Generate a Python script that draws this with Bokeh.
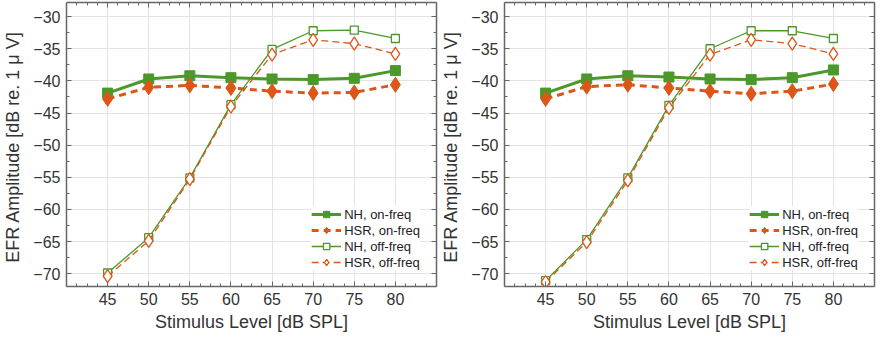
from bokeh.plotting import figure
from bokeh.layouts import row
from bokeh.models import FixedTicker, LinearAxis, Range1d
from bokeh.embed import file_html
from bokeh.resources import INLINE

# ---- data ----
levels = [45, 50, 55, 60, 65, 70, 75, 80]
x_tick_labels = [45, 50, 55, 60, 65, 70, 75, 80]
y_tick_labels = [-70, -65, -60, -55, -50, -45, -40, -35, -30]

# left panel
left_nh_on = [-41.9, -39.7, -39.2, -39.5, -39.7, -39.8, -39.6, -38.4]
left_hsr_on = [-42.8, -41.0, -40.7, -41.1, -41.6, -41.9, -41.8, -40.6]
left_nh_off = [-69.9, -64.4, -55.1, -43.7, -35.1, -32.2, -32.1, -33.4]
left_hsr_off = [-70.4, -64.9, -55.3, -44.0, -35.9, -33.6, -34.2, -35.8]

# right panel
right_nh_on = [-41.9, -39.7, -39.2, -39.4, -39.7, -39.8, -39.5, -38.3]
right_hsr_on = [-42.8, -40.9, -40.6, -41.1, -41.6, -42.0, -41.6, -40.5]
right_nh_off = [-71.1, -64.7, -55.1, -43.8, -35.0, -32.2, -32.2, -33.4]
right_hsr_off = [-71.3, -65.1, -55.5, -44.2, -35.9, -33.6, -34.2, -35.8]

series_names = ["NH, on-freq", "HSR, on-freq", "NH, off-freq", "HSR, off-freq"]

GREEN = "#4b982b"
ORANGE = "#dc5618"
AXIS = "#666666"
FONT = "Liberation Sans"

x_minor = [40 + 1.25 * k for k in range(37)]
y_minor = [-72.5 + 2.5 * k for k in range(19)]


def style_axis(ax, labels=True):
    ax.axis_line_color = AXIS
    ax.axis_line_width = 1.5
    ax.major_tick_line_color = AXIS
    ax.minor_tick_line_color = AXIS
    ax.major_tick_in = 5
    ax.major_tick_out = 0
    ax.minor_tick_in = 3
    ax.minor_tick_out = 0
    ax.major_label_text_font = FONT
    ax.major_label_text_font_size = "16px"
    ax.major_label_text_color = "#333333" if labels else None
    ax.axis_label_text_font = FONT
    ax.axis_label_text_font_size = "18px"
    ax.axis_label_text_font_style = "normal"
    ax.axis_label_text_color = "#333333"
    if not labels:
        ax.major_label_text_font_size = "0px"
        ax.major_label_standoff = 0


def make_panel(nh_on, hsr_on, nh_off, hsr_off):
    p = figure(width=438, height=334, output_backend="svg", toolbar_location=None,
               x_range=Range1d(40, 85), y_range=Range1d(-72, -27.8),
               min_border_left=2, min_border_right=2, min_border_top=2, min_border_bottom=4,
               background_fill_color="white", border_fill_color="white")
    p.outline_line_color = None

    xt = FixedTicker(ticks=x_tick_labels, minor_ticks=x_minor)
    yt = FixedTicker(ticks=y_tick_labels, minor_ticks=y_minor)
    p.xaxis.ticker = xt
    p.yaxis.ticker = yt
    p.xaxis.axis_label = "Stimulus Level [dB SPL]"
    p.yaxis.axis_label = "EFR Amplitude [dB re. 1  \u03bc V]"
    style_axis(p.xaxis[0])
    style_axis(p.yaxis[0])
    p.xaxis.axis_label_standoff = 4
    p.yaxis.axis_label_standoff = 7
    p.xaxis.major_label_standoff = 6
    p.yaxis.major_label_standoff = 6

    top = LinearAxis(ticker=FixedTicker(ticks=x_tick_labels, minor_ticks=x_minor))
    right = LinearAxis(ticker=FixedTicker(ticks=y_tick_labels, minor_ticks=y_minor))
    style_axis(top, labels=False)
    style_axis(right, labels=False)
    p.add_layout(top, "above")
    p.add_layout(right, "right")

    p.xgrid.grid_line_color = "#e3e3e3"
    p.ygrid.grid_line_color = "#e3e3e3"
    p.xgrid.ticker = xt
    p.ygrid.ticker = yt

    # NH on-freq
    p.line(levels, nh_on, line_color=GREEN, line_width=3, legend_label=series_names[0])
    p.scatter(levels, nh_on, marker="square", size=10, fill_color=GREEN, line_color=GREEN,
              legend_label=series_names[0])
    # HSR on-freq
    p.line(levels, hsr_on, line_color=ORANGE, line_width=3, line_dash="7 5",
           legend_label=series_names[1])
    p.scatter(levels, hsr_on, marker="diamond", size=15, fill_color=ORANGE, line_color=ORANGE,
              legend_label=series_names[1])
    # NH off-freq
    p.line(levels, nh_off, line_color=GREEN, line_width=1.3, legend_label=series_names[2])
    p.scatter(levels, nh_off, marker="square", size=8, fill_color="white", line_color=GREEN,
              line_width=1.3, legend_label=series_names[2])
    # HSR off-freq
    p.line(levels, hsr_off, line_color=ORANGE, line_width=1.3, line_dash="7 4",
           legend_label=series_names[3])
    p.scatter(levels, hsr_off, marker="diamond", size=13, fill_color="white", line_color=ORANGE,
              line_width=1.3, legend_label=series_names[3])

    lg = p.legend[0]
    lg.location = "bottom_right"
    lg.border_line_color = None
    lg.background_fill_color = "white"
    lg.background_fill_alpha = 1
    lg.label_text_font = FONT
    lg.label_text_font_size = "13px"
    lg.label_text_color = "#222222"
    lg.glyph_width = 30
    lg.glyph_height = 16
    lg.label_height = 15
    lg.label_standoff = 3
    lg.spacing = 0
    lg.padding = 3
    lg.margin = 16
    return p


p1 = make_panel(left_nh_on, left_hsr_on, left_nh_off, left_hsr_off)
p2 = make_panel(right_nh_on, right_hsr_on, right_nh_off, right_hsr_off)
p = row(p1, p2)

open("out.html", "w").write(file_html(p, INLINE))
